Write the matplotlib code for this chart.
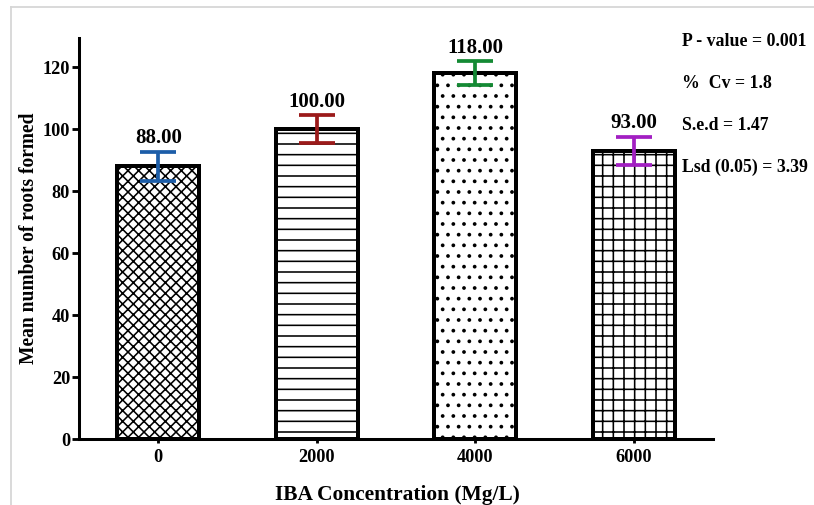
import matplotlib
matplotlib.use("Agg")
import matplotlib.pyplot as plt
from matplotlib.lines import Line2D
import numpy as np

# Du lieu
concentrations = ['0', '2000', '4000', '6000']
means = [88.0, 100.0, 118.0, 93.0]
errors = [4.75, 4.45, 3.9, 4.45]
bar_labels = ['88.00', '100.00', '118.00', '93.00']
hatches = ['xx', '-', '.', '+']
err_colors = ['#1c5da8', '#9b1a1a', '#148a34', '#a21fc2']
stats = ['P - value = 0.001', '%  Cv = 1.8', 'S.e.d = 1.47', 'Lsd (0.05) = 3.39']
y_ticks = [0, 20, 40, 60, 80, 100, 120]

DPI = 64
plt.rcParams['font.family'] = ['Liberation Serif', 'DejaVu Serif']
plt.rcParams['font.weight'] = 'bold'
plt.rcParams['hatch.linewidth'] = 1.8
plt.rcParams['hatch.color'] = 'black'

fig = plt.figure(figsize=(814 / DPI, 505 / DPI), dpi=DPI)
ax = fig.add_axes([79 / 814, 66 / 505, 634 / 814, 401 / 505])

x = np.arange(len(concentrations))
bars = ax.bar(x, means, width=0.52, color='white', edgecolor='black',
              linewidth=4.5, zorder=2)
for b, h in zip(bars, hatches):
    b.set_hatch(h)

# thanh sai so
for i in range(len(x)):
    ax.errorbar(x[i], means[i], yerr=errors[i], fmt='none', ecolor=err_colors[i],
                elinewidth=4.2, capsize=20.5, capthick=4.2, zorder=3)
    ax.annotate(bar_labels[i], (x[i], means[i] + errors[i]), xytext=(0, 4),
                textcoords='offset points', ha='center', va='bottom',
                fontsize=23.5, fontweight='bold')

ax.set_xlim(-0.5, 3.5)
ax.set_ylim(0, 129.4)
ax.set_yticks(y_ticks)
ax.set_xticks(x)
ax.set_xticklabels(concentrations)
ax.tick_params(axis='both', labelsize=20.5, width=3.2, direction='out')
ax.tick_params(axis='y', pad=2, length=8)
ax.tick_params(axis='x', pad=7, length=4.5)
for t in ax.get_xticklabels() + ax.get_yticklabels():
    t.set_fontweight('bold')

for s in ['top', 'right']:
    ax.spines[s].set_visible(False)
for s in ['left', 'bottom']:
    ax.spines[s].set_linewidth(3.4)

ax.set_ylabel('Mean number of roots formed', fontsize=22, fontweight='bold', labelpad=4)
fig.text(397 / 814, 1 - 495 / 505, 'IBA Concentration (Mg/L)', ha='center', va='center',
         fontsize=24, fontweight='bold')

# thong ke
stat_y = [41, 83, 126, 167]
for s, yy in zip(stats, stat_y):
    fig.text(682 / 814, 1 - yy / 505, s, ha='left', va='center', fontsize=20,
             fontweight='bold')

# khung xam
fig.add_artist(Line2D([11 / 814, 11 / 814], [0, 1 - 7 / 505], color='#d6d6d6', lw=2))
fig.add_artist(Line2D([11 / 814, 1], [1 - 7 / 505, 1 - 7 / 505], color='#d6d6d6', lw=2))

fig.savefig('out.png', dpi=DPI)
